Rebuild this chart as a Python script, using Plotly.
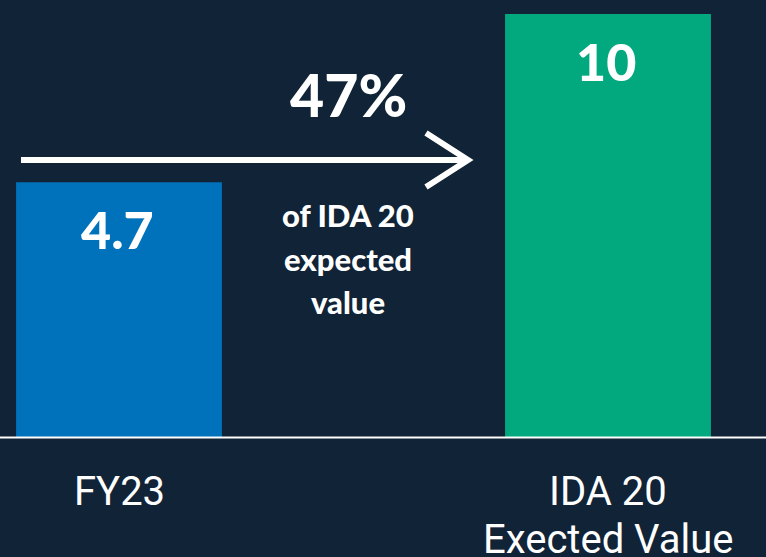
import plotly.graph_objects as go

categories = ["FY23", "IDA 20<br>Exected Value"]
values = [4.7, 10]
value_labels = ["4.7", "10"]
bar_colors = ["#0071BB", "#02A97F"]
share_label = "47%"
share_caption = ["of IDA 20", "expected", "value"]

W, H = 766, 557
BG = "#112336"
FLOOR = -3.35  # visual floor of the stylised bars

x_pos = list(range(len(categories)))

fig = go.Figure()
fig.add_trace(go.Bar(
    x=x_pos,
    y=[v - FLOOR for v in values],
    base=[FLOOR] * len(values),
    width=0.421,
    marker=dict(color=bar_colors, line=dict(width=0)),
    hoverinfo="skip",
))

def px_x(p):
    return p / W

def px_y(p):
    return 1 - p / H

annotations = []
for i, (v, lab) in enumerate(zip(values, value_labels)):
    annotations.append(dict(
        x=i, y=v, xref="x", yref="y", text=lab, showarrow=False,
        yanchor="middle", yshift=-47, xshift=-2,
        font=dict(family="Lato", size=52, color="white", weight=900),
    ))
for i, c in enumerate(categories):
    lines = c.split("<br>")
    for j, ln in enumerate(lines):
        annotations.append(dict(
            x=i, y=px_y(491 + 48 * j), xref="x", yref="paper", text=ln,
            showarrow=False, yanchor="middle",
            font=dict(family="Roboto", size=40, color="white"),
        ))
annotations.append(dict(
    x=px_x(348), y=px_y(95), xref="paper", yref="paper", text=share_label,
    showarrow=False, yanchor="middle", xanchor="center",
    font=dict(family="Lato", size=59, color="white", weight=900),
))
for j, ln in enumerate(share_caption):
    annotations.append(dict(
        x=px_x(348), y=px_y(215 + 43.5 * j), xref="paper", yref="paper", text=ln,
        showarrow=False, yanchor="middle", xanchor="center",
        font=dict(family="Lato", size=31, color="white", weight=900),
    ))

shapes = [
    dict(type="line", xref="paper", yref="y", x0=0, x1=1, y0=FLOOR, y1=FLOOR,
         line=dict(color="white", width=2)),
    dict(type="path", xref="paper", yref="paper",
         path=(f"M {px_x(21)},{px_y(160)} L {px_x(468)},{px_y(160)} "
               f"M {px_x(426)},{px_y(133)} L {px_x(468)},{px_y(160)} L {px_x(426)},{px_y(187)}"),
         line=dict(color="white", width=6)),
]

fig.update_layout(
    width=W, height=H,
    margin=dict(l=0, r=0, t=0, b=0),
    paper_bgcolor=BG, plot_bgcolor=BG,
    showlegend=False,
    xaxis=dict(range=[-119 / 489, 647 / 489], visible=False, fixedrange=True),
    yaxis=dict(range=[FLOOR - 119.5 / 31.72, 10 + 14 / 31.72], visible=False, fixedrange=True),
    annotations=annotations,
    shapes=shapes,
)

fig.write_html(
    "out.html",
    config={"displayModeBar": False},
    post_script="document.body.style.margin='0';document.body.style.background='%s';" % BG,
)
